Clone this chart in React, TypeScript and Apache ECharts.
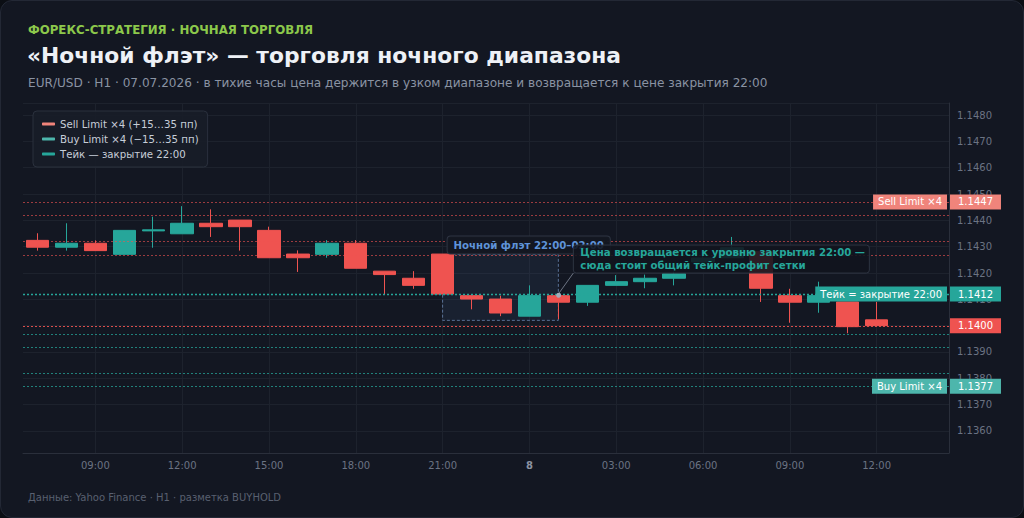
import React, { useEffect, useRef } from "react";
import * as echarts from "echarts";

// ---------- data ----------
const categories = [
  "07.07 07:00", "07.07 08:00", "07.07 09:00", "07.07 10:00", "07.07 11:00", "07.07 12:00",
  "07.07 13:00", "07.07 14:00", "07.07 15:00", "07.07 16:00", "07.07 17:00", "07.07 18:00",
  "07.07 19:00", "07.07 20:00", "07.07 21:00", "07.07 22:00", "07.07 23:00", "08.07 00:00",
  "08.07 01:00", "08.07 02:00", "08.07 03:00", "08.07 04:00", "08.07 05:00", "08.07 06:00",
  "08.07 07:00", "08.07 08:00", "08.07 09:00", "08.07 10:00", "08.07 11:00", "08.07 12:00",
  "08.07 13:00", "08.07 14:00",
];

const openPrices = [
  1.14324, 1.14298, 1.14313, 1.14271, 1.1436, 1.14349, 1.14389, 1.14401, 1.14362, 1.14272,
  1.14271, 1.14313, 1.14207, 1.1418, 1.14272, 1.14114, 1.14101, 1.14036, 1.14114, 1.14089,
  1.14153, 1.14167, 1.1418, 1.14242, 1.14258, 1.14281, 1.14114, 1.14089, 1.1409, 1.14022,
];
const closePrices = [
  1.14298, 1.14313, 1.14285, 1.14362, 1.14364, 1.14389, 1.14376, 1.14376, 1.14258, 1.14258,
  1.14313, 1.14218, 1.14194, 1.14153, 1.1412, 1.14101, 1.14048, 1.14114, 1.14089, 1.14153,
  1.14167, 1.1418, 1.14197, 1.14257, 1.14296, 1.14142, 1.14089, 1.14114, 1.13996, 1.14,
];
const lowPrices = [
  1.14285, 1.14285, 1.14285, 1.14271, 1.14296, 1.14349, 1.14337, 1.14285, 1.14258, 1.14204,
  1.14258, 1.14218, 1.14117, 1.1414, 1.1412, 1.14062, 1.14036, 1.14036, 1.14025, 1.14075,
  1.14153, 1.14142, 1.14153, 1.14235, 1.14258, 1.1409, 1.14011, 1.14049, 1.13971, 1.14,
];
const highPrices = [
  1.14351, 1.14389, 1.14324, 1.14362, 1.14414, 1.14454, 1.14442, 1.14401, 1.14376, 1.14286,
  1.14325, 1.14325, 1.14207, 1.14207, 1.14272, 1.1412, 1.14114, 1.14153, 1.1412, 1.14153,
  1.14192, 1.14194, 1.14205, 1.14265, 1.14337, 1.14281, 1.1414, 1.14167, 1.1409, 1.1409,
];

const sellLevels = [1.1427, 1.1432, 1.1442, 1.1447];
const buyLevels = [1.1397, 1.1392, 1.1382, 1.1377];
const takeLevel = 1.1412;
const lastPrice = 1.14;
const flatFrom = "07.07 21:00";
const flatTo = "08.07 01:00";
const flatTop = 1.1427;
const flatBottom = 1.1402;
const annotationAt = "08.07 01:00";

const yMin = 1.13516;
const yMax = 1.14846;

// ---------- styles ----------
const UP = "#26a69a";
const DOWN = "#ef5350";
const SELL_LABEL = "#f0847b";
const BUY_LABEL = "#4db6ac";
const GRID = "#1d222d";
const AXIS_TXT = "#6b7383";
const FONT = "DejaVu Sans";

const SELL_NAME = "Sell Limit ×4 (+15…35 пп)";
const BUY_NAME = "Buy Limit ×4 (−15…35 пп)";
const TAKE_NAME = "Тейк — закрытие 22:00";

const isLabelIdx = (i: number) => {
  const h = parseInt(categories[i].split(" ")[1], 10);
  return h % 3 === 0;
};

export default function App() {
  const ref = useRef<HTMLDivElement>(null);

  useEffect(() => {
    const chart = echarts.init(ref.current!, null, { renderer: "svg" });
    const candleData = openPrices.map((o, i) => [o, closePrices[i], lowPrices[i], highPrices[i]]);

    const option: any = {
      animation: false,
      backgroundColor: "transparent",
      textStyle: { fontFamily: FONT },
      title: [
        {
          text: "ФОРЕКС-СТРАТЕГИЯ · НОЧНАЯ ТОРГОВЛЯ",
          left: 23,
          top: 19,
          textStyle: { color: "#8cc84b", fontSize: 11.8, fontWeight: "bold", fontFamily: FONT },
        },
        {
          text: "«Ночной флэт» — торговля ночного диапазона",
          left: 22,
          top: 39,
          textStyle: { color: "#eef1f6", fontSize: 21.8, fontWeight: "bold", fontFamily: FONT },
        },
        {
          text: "EUR/USD · H1 · 07.07.2026 · в тихие часы цена держится в узком диапазоне и возвращается к цене закрытия 22:00",
          left: 23,
          top: 72,
          textStyle: { color: "#8a93a3", fontSize: 12.1, fontWeight: "normal", fontFamily: FONT },
        },
        {
          text: "Данные: Yahoo Finance · H1 · разметка BUYHOLD",
          left: 23,
          top: 487,
          textStyle: { color: "#596070", fontSize: 10, fontWeight: "normal", fontFamily: FONT },
        },
      ],
      legend: {
        data: [SELL_NAME, BUY_NAME, TAKE_NAME],
        orient: "vertical",
        left: 33,
        top: 111,
        icon: "roundRect",
        itemWidth: 13,
        itemHeight: 3,
        itemGap: 3,
        selectedMode: false,
        backgroundColor: "rgba(24,29,40,0.92)",
        borderColor: "#2a303d",
        borderWidth: 1,
        borderRadius: 4,
        padding: [7, 9, 7, 9],
        textStyle: { color: "#c7ced9", fontSize: 10.2, fontFamily: FONT, lineHeight: 12 },
      },
      grid: { left: 23, right: 75, top: 103, bottom: 65 },
      xAxis: {
        type: "category",
        data: categories,
        boundaryGap: true,
        axisLine: { show: true, lineStyle: { color: "#2a2f3b" } },
        axisTick: { show: false },
        axisLabel: {
          interval: (i: number) => isLabelIdx(i),
          color: AXIS_TXT,
          fontSize: 10,
          margin: 7,
          fontFamily: FONT,
          formatter: (v: string) => {
            const [d, t] = v.split(" ");
            if (t === "00:00") return "{b|" + parseInt(d.split(".")[0], 10) + "}";
            return t;
          },
          rich: { b: { fontWeight: "bold", color: "#8b93a2", fontSize: 10, fontFamily: FONT } },
        },
        splitLine: {
          show: true,
          interval: (i: number) => isLabelIdx(i),
          alignWithLabel: true,
          lineStyle: { color: GRID, width: 1 },
        },
      },
      yAxis: {
        type: "value",
        position: "right",
        min: yMin,
        max: yMax,
        splitNumber: 13,
        minInterval: 0.001,
        maxInterval: 0.001,
        axisLine: { show: true, lineStyle: { color: "#2a2f3b" } },
        axisTick: { show: false },
        axisLabel: {
          color: AXIS_TXT,
          fontSize: 10,
          margin: 8,
          fontFamily: FONT,
          showMinLabel: false,
          showMaxLabel: false,
          formatter: (v: number) => v.toFixed(4),
        },
        splitLine: { show: true, lineStyle: { color: GRID, width: 1 } },
      },
      series: [
        {
          type: "candlestick",
          name: "EUR/USD",
          data: candleData,
          barWidth: "79%",
          itemStyle: {
            color: UP,
            color0: DOWN,
            borderColor: UP,
            borderColor0: DOWN,
            borderWidth: 1,
          },
          markArea: {
            silent: true,
            itemStyle: {
              color: "rgba(70,105,160,0.12)",
              borderColor: "rgba(110,140,185,0.75)",
              borderWidth: 1,
              borderType: [3, 2],
            },
            data: [[{ coord: [flatFrom, flatTop] }, { coord: [flatTo, flatBottom] }]],
          },
        },
        { type: "line", name: SELL_NAME, color: SELL_LABEL, data: [], showSymbol: false },
        { type: "line", name: BUY_NAME, color: BUY_LABEL, data: [], showSymbol: false },
        { type: "line", name: TAKE_NAME, color: UP, data: [], showSymbol: false },
      ],
    };

    chart.setOption(option);

    // ---- overlays positioned through the chart's own axes ----
    const toY = (v: number) => chart.convertToPixel({ yAxisIndex: 0 }, v) as number;
    const toXY = (c: string, v: number) =>
      chart.convertToPixel({ xAxisIndex: 0, yAxisIndex: 0 }, [c, v]) as number[];
    const gridRect = (chart as any).getModel().getComponent("grid", 0).coordinateSystem.getRect();
    const xL = gridRect.x;
    const xR = gridRect.x + gridRect.width;

    const graphics: any[] = [];
    const hLine = (v: number, stroke: string, w: number) => {
      const y = Math.round(toY(v)) + 0.5;
      graphics.push({
        type: "line",
        z: 50,
        silent: true,
        shape: { x1: xL, y1: y, x2: xR, y2: y },
        style: { stroke, lineWidth: w, lineDash: [2, 2] },
      });
    };
    const valueBox = (v: number, bg: string) => {
      graphics.push({
        type: "text",
        z: 70,
        silent: true,
        x: xR + 1,
        y: toY(v),
        style: {
          text: v.toFixed(4),
          fill: "#ffffff",
          backgroundColor: bg,
          padding: [2, 8, 2, 8],
          fontSize: 10,
          lineHeight: 11,
          fontFamily: FONT,
          align: "left",
          verticalAlign: "middle",
        },
      });
    };
    const nameBox = (v: number, bg: string, text: string) => {
      graphics.push({
        type: "text",
        z: 70,
        silent: true,
        x: xR - 2,
        y: toY(v),
        style: {
          text,
          fill: "#ffffff",
          backgroundColor: bg,
          padding: [2, 5, 2, 5],
          fontSize: 10,
          lineHeight: 11,
          fontFamily: FONT,
          align: "right",
          verticalAlign: "middle",
        },
      });
    };

    sellLevels.forEach((v) => hLine(v, "rgba(239,83,80,0.62)", 1));
    buyLevels.forEach((v) => hLine(v, "rgba(38,166,154,0.75)", 1));
    hLine(takeLevel, UP, 1.5);
    hLine(lastPrice, "rgba(239,83,80,0.9)", 1);

    const sellTop = sellLevels[sellLevels.length - 1];
    const buyBottom = buyLevels[buyLevels.length - 1];
    nameBox(sellTop, SELL_LABEL, "Sell Limit ×4");
    valueBox(sellTop, SELL_LABEL);
    nameBox(buyBottom, BUY_LABEL, "Buy Limit ×4");
    valueBox(buyBottom, BUY_LABEL);
    nameBox(takeLevel, UP, "Тейк = закрытие 22:00");
    valueBox(takeLevel, UP);
    valueBox(lastPrice, DOWN);

    // flat range label
    const f = toXY(flatFrom, flatTop);
    graphics.push({
      type: "text",
      z: 80,
      silent: true,
      x: f[0] + 5,
      y: f[1] - 18,
      style: {
        text: "Ночной флэт 22:00–02:00",
        fill: "#5f93d8",
        fontSize: 10.2,
        fontWeight: "bold",
        fontFamily: FONT,
        lineHeight: 13,
        backgroundColor: "rgba(19,23,33,0.94)",
        borderColor: "#2e3442",
        borderWidth: 1,
        borderRadius: 3,
        padding: [2, 6, 2, 6],
        align: "left",
        verticalAlign: "top",
      },
    });

    // annotation with leader
    const p = toXY(annotationAt, takeLevel);
    const bx = p[0] + 15;
    const by = p[1] - 49;
    graphics.push(
      {
        type: "line",
        z: 100,
        silent: true,
        shape: { x1: p[0], y1: p[1], x2: bx, y2: p[1] - 21 },
        style: { stroke: "#6c7382", lineWidth: 1 },
      },
      {
        type: "circle",
        z: 101,
        silent: true,
        shape: { cx: p[0], cy: p[1], r: 2.5 },
        style: { fill: "#a3abb8" },
      },
      {
        type: "rect",
        z: 100,
        silent: true,
        shape: { x: bx, y: by, width: 296, height: 28, r: 3 },
        style: { fill: "rgba(17,21,30,0.88)", stroke: "#2e3442", lineWidth: 1 },
      },
      {
        type: "text",
        z: 101,
        silent: true,
        x: bx + 7,
        y: by + 1,
        style: {
          text: "Цена возвращается к уровню закрытия 22:00 —\nсюда стоит общий тейк-профит сетки",
          fill: UP,
          fontSize: 10.2,
          fontWeight: "bold",
          fontFamily: FONT,
          lineHeight: 13.3,
          verticalAlign: "top",
        },
      }
    );

    chart.setOption({ graphic: graphics });

    return () => chart.dispose();
  }, []);

  return (
    <div style={{ position: "fixed", left: 0, top: 0, width: 1024, height: 518, background: "#0b0e14" }}>
      <div
        style={{
          position: "absolute",
          left: 0,
          top: 0,
          width: 1024,
          height: 518,
          boxSizing: "border-box",
          borderRadius: 12,
          border: "1px solid #232835",
          background: "#131722",
        }}
      />
      <div ref={ref} style={{ position: "absolute", left: 0, top: 0, width: 1024, height: 518 }} />
    </div>
  );
}
